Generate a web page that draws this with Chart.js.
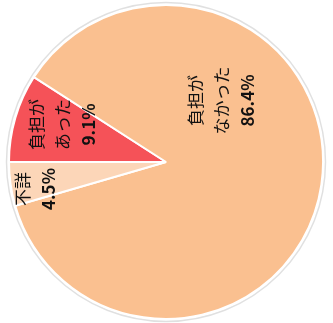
<!DOCTYPE html>
<html>
<head>
<meta charset="utf-8">
<script src="https://cdn.jsdelivr.net/npm/chart.js@4"></script>
<style>
  html, body { margin: 0; padding: 0; background: #fff; }
  #wrap { width: 333px; height: 323px; }
</style>
</head>
<body>
<div id="wrap"><canvas id="myChart"></canvas></div>
<script>
// data, in drawing order (clockwise from 9 o'clock)
const categories = [["負担が", "あった"], ["負担が", "なかった"], ["不詳"]];
const values = [9.1, 86.4, 4.5];
const percentLabels = ["9.1%", "86.4%", "4.5%"];
const sliceColors = ["rgb(245, 82, 88)", "rgb(250, 192, 144)", "rgb(252, 214, 184)"];

// where each label sits: t = fraction along the slice's angle, r = fraction of radius
const labelSpots = [
  { t: 0.61, r: 0.70 },
  { t: 0.32, r: 0.53 },
  { t: 0.28, r: 0.85 }
];

//draws the rotated labels inside the slices
const sliceLabels = {
  id: 'sliceLabels',
  afterDatasetsDraw(chart) {
    const ctx = chart.ctx;
    const meta = chart.getDatasetMeta(0);
    meta.data.forEach((arc, i) => {
      const p = arc.getProps(['x', 'y', 'startAngle', 'endAngle', 'outerRadius'], true);
      const spot = labelSpots[i];
      const a = p.startAngle + (p.endAngle - p.startAngle) * spot.t;
      const x = p.x + Math.cos(a) * p.outerRadius * spot.r;
      const y = p.y + Math.sin(a) * p.outerRadius * spot.r;

      const lines = categories[i].concat([percentLabels[i]]);
      const lineH = 26;
      ctx.save();
      ctx.translate(x, y);
      ctx.rotate(-Math.PI / 2);
      ctx.fillStyle = '#111';
      ctx.textAlign = 'center';
      ctx.textBaseline = 'middle';
      lines.forEach((txt, j) => {
        const last = j === lines.length - 1;
        ctx.font = (last ? 'bold ' : '') + '17px "Noto Sans CJK JP", "Noto Sans", sans-serif';
        ctx.fillText(txt, 0, (j - (lines.length - 1) / 2) * lineH);
      });
      ctx.restore();
    });
  }
};

// faint grey rim round the pie
const rim = {
  id: 'rim',
  beforeDatasetsDraw(chart) {
    const arc = chart.getDatasetMeta(0).data[0];
    if (!arc) return;
    const ctx = chart.ctx;
    ctx.save();
    ctx.beginPath();
    ctx.arc(arc.x, arc.y, arc.outerRadius + 2.5, 0, Math.PI * 2);
    ctx.strokeStyle = 'rgba(0, 0, 0, 0.12)';
    ctx.lineWidth = 1.5;
    ctx.stroke();
    ctx.restore();
  }
};

const myChart = document.getElementById('myChart');

let pieChart = new Chart(myChart, {
  type: 'pie',
  data: {
    labels: categories.map(c => c.join('')),
    datasets: [{
      data: values,
      backgroundColor: sliceColors,
      borderColor: '#ffffff',
      borderWidth: 2
    }]
  },
  options: {
    responsive: true,
    maintainAspectRatio: false,
    animation: false,
    rotation: 270,
    layout: { padding: { left: 8, right: 9, top: 4, bottom: 3 } },
    plugins: {
      legend: { display: false },
      tooltip: { enabled: false }
    }
  },
  plugins: [rim, sliceLabels]
});
</script>
</body>
</html>
